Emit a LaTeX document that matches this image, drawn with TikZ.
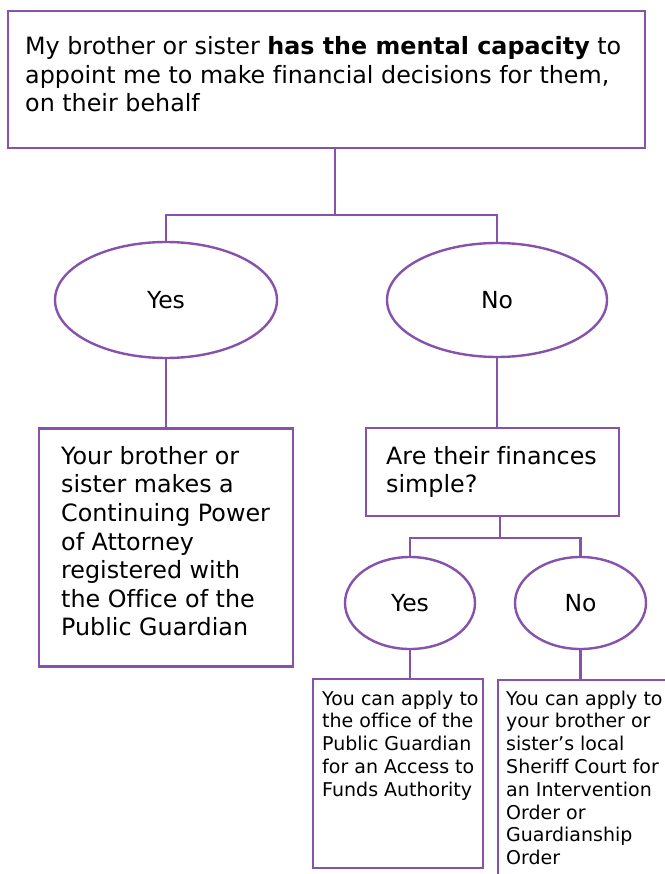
\documentclass[tikz,border=0pt]{standalone}
\usepackage{fontspec}
\setmainfont[Ligatures={NoCommon}]{DejaVu Sans}
\usetikzlibrary{shapes.geometric}
\definecolor{lilac}{RGB}{134,82,172}
\tikzset{
  box/.style={draw=lilac, line width=2.4pt, rectangle, inner sep=0pt},
  oval/.style={draw=lilac, line width=2.4pt, ellipse, inner sep=0pt, font=\fontsize{23.5}{28}\selectfont},
  bigtxt/.style={anchor=north west, inner sep=0pt, align=left, font=\fontsize{23.8}{28.6}\selectfont},
  smalltxt/.style={anchor=north west, inner sep=0pt, align=left, font=\fontsize{19}{22.8}\selectfont},
  link/.style={draw=lilac, line width=2.8pt}
}
\begin{document}
\begin{tikzpicture}[x=1pt,y=-1pt]
\useasboundingbox (0,0) rectangle (664,874);
\fill[white] (0,0) rectangle (664,874);
% boxes
\node[box, minimum width=637pt, minimum height=137pt] (top) at (326.5,79.5) {};
\node[bigtxt] (toptxt) at (25,36.5) {My brother or sister \textbf{has the mental capacity} to\\appoint me to make financial decisions for them,\\on their behalf};
\node[oval, minimum width=222pt, minimum height=116pt] (yes1) at (166,300) {Yes};
\node[oval, minimum width=220pt, minimum height=114pt] (no1) at (497,300) {No};
\node[box, minimum width=254pt, minimum height=238pt] (res1) at (166,547.5) {};
\node[bigtxt] (res1txt) at (61,446) {Your brother or\\sister makes a\\Continuing Power\\of Attorney\\registered with\\the Office of the\\Public Guardian};
\node[box, minimum width=253pt, minimum height=88pt] (fin) at (492.5,472) {};
\node[bigtxt] (fintxt) at (386,446) {Are their finances\\simple?};
\node[oval, minimum width=130pt, minimum height=92pt] (yes2) at (410,603) {Yes};
\node[oval, minimum width=131pt, minimum height=92pt] (no2) at (580.5,603) {No};
\node[box, minimum width=170pt, minimum height=189pt] (res2) at (398,773.5) {};
\node[smalltxt] (res2txt) at (322,690.5) {You can apply to\\the office of the\\Public Guardian\\for an Access to\\Funds Authority};
\node[box, minimum width=200pt, minimum height=240pt] (res3) at (598,800) {};
\node[smalltxt] (res3txt) at (506,690.5) {You can apply to\\your brother or\\sister’s local\\Sheriff Court for\\an Intervention\\Order or\\Guardianship\\Order};
% connectors
\coordinate (j1) at (335,215);
\coordinate (j2) at (500,538);
\draw[link] (j1 |- top.south) -- (j1);
\draw[link] (yes1.north) |- (j1) -| (no1.north);
\draw[link] (yes1.south) -- (yes1.south |- res1.north);
\draw[link] (no1.south) -- (no1.south |- fin.north);
\draw[link] (j2 |- fin.south) -- (j2);
\draw[link] (yes2.north) |- (j2) -| (no2.north);
\draw[link] (yes2.south) -- (yes2.south |- res2.north);
\draw[link] (no2.south) -- (no2.south |- res3.north);
\end{tikzpicture}
\end{document}
